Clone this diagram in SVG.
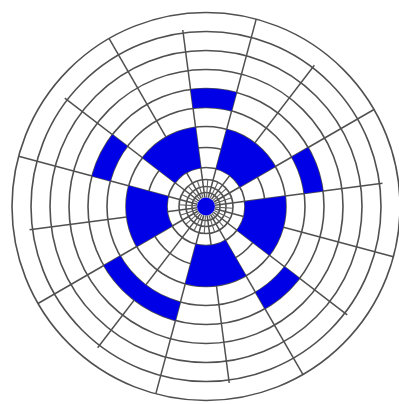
<svg xmlns="http://www.w3.org/2000/svg" xmlns:xlink="http://www.w3.org/1999/xlink" width="399" height="404" viewBox="0 0 399 404">
  <style>
    .ring { fill: none; stroke: #505050; stroke-width: 1.6; }
    .spoke { stroke: #505050; stroke-width: 1.5; }
    .fine { stroke: #606060; stroke-width: 1.1; }
    .cell { fill: #0000e6; stroke: none; }
  </style>
  <defs>
    <path id="band45" d="M0,-80 A80,80 0 0 1 56.569,-56.569 L27.577,-27.577 A39,39 0 0 0 0,-39 Z"/>
    <path id="outer22" d="M0,-118 A118,118 0 0 1 45.157,-109.017 L37.886,-91.464 A99,99 0 0 0 0,-99 Z"/>
    <path id="outer45" d="M0,-118 A118,118 0 0 1 83.439,-83.439 L70.004,-70.004 A99,99 0 0 0 0,-99 Z"/>
  </defs>
  <rect width="399" height="404" fill="#fff"/>
  <g id="grid" transform="translate(206,206.5)">
    <g id="rings">
      <circle class="ring" r="194"/>
      <circle class="ring" r="175"/>
      <circle class="ring" r="156"/>
      <circle class="ring" r="137"/>
      <circle class="ring" r="118"/>
      <circle class="ring" r="99"/>
      <circle class="ring" r="80"/>
      <circle class="ring" r="59"/>
      <circle class="ring" r="39"/>
      <circle class="ring" r="27"/>
      <circle class="ring" r="20"/>
      <circle class="ring" r="14"/>
    </g>
    <g id="spokes">
      <line class="spoke" x1="0" y1="-9" x2="0" y2="-194" transform="rotate(15)"/>
      <line class="spoke" x1="0" y1="-9" x2="0" y2="-178" transform="rotate(37.5)"/>
      <line class="spoke" x1="0" y1="-9" x2="0" y2="-194" transform="rotate(60)"/>
      <line class="spoke" x1="0" y1="-9" x2="0" y2="-178" transform="rotate(82.5)"/>
      <line class="spoke" x1="0" y1="-9" x2="0" y2="-194" transform="rotate(105)"/>
      <line class="spoke" x1="0" y1="-9" x2="0" y2="-178" transform="rotate(127.5)"/>
      <line class="spoke" x1="0" y1="-9" x2="0" y2="-194" transform="rotate(150)"/>
      <line class="spoke" x1="0" y1="-9" x2="0" y2="-178" transform="rotate(172.5)"/>
      <line class="spoke" x1="0" y1="-9" x2="0" y2="-194" transform="rotate(195)"/>
      <line class="spoke" x1="0" y1="-9" x2="0" y2="-178" transform="rotate(217.5)"/>
      <line class="spoke" x1="0" y1="-9" x2="0" y2="-194" transform="rotate(240)"/>
      <line class="spoke" x1="0" y1="-9" x2="0" y2="-178" transform="rotate(262.5)"/>
      <line class="spoke" x1="0" y1="-9" x2="0" y2="-194" transform="rotate(285)"/>
      <line class="spoke" x1="0" y1="-9" x2="0" y2="-178" transform="rotate(307.5)"/>
      <line class="spoke" x1="0" y1="-9" x2="0" y2="-194" transform="rotate(330)"/>
      <line class="spoke" x1="0" y1="-9" x2="0" y2="-178" transform="rotate(352.5)"/>
    </g>
    <g id="inner-spokes">
      <line class="fine" x1="0" y1="-9" x2="0" y2="-27" transform="rotate(26.25)"/>
      <line class="fine" x1="0" y1="-9" x2="0" y2="-27" transform="rotate(48.75)"/>
      <line class="fine" x1="0" y1="-9" x2="0" y2="-27" transform="rotate(71.25)"/>
      <line class="fine" x1="0" y1="-9" x2="0" y2="-27" transform="rotate(93.75)"/>
      <line class="fine" x1="0" y1="-9" x2="0" y2="-27" transform="rotate(116.25)"/>
      <line class="fine" x1="0" y1="-9" x2="0" y2="-27" transform="rotate(138.75)"/>
      <line class="fine" x1="0" y1="-9" x2="0" y2="-27" transform="rotate(161.25)"/>
      <line class="fine" x1="0" y1="-9" x2="0" y2="-27" transform="rotate(183.75)"/>
      <line class="fine" x1="0" y1="-9" x2="0" y2="-27" transform="rotate(206.25)"/>
      <line class="fine" x1="0" y1="-9" x2="0" y2="-27" transform="rotate(228.75)"/>
      <line class="fine" x1="0" y1="-9" x2="0" y2="-27" transform="rotate(251.25)"/>
      <line class="fine" x1="0" y1="-9" x2="0" y2="-27" transform="rotate(273.75)"/>
      <line class="fine" x1="0" y1="-9" x2="0" y2="-27" transform="rotate(296.25)"/>
      <line class="fine" x1="0" y1="-9" x2="0" y2="-27" transform="rotate(318.75)"/>
      <line class="fine" x1="0" y1="-9" x2="0" y2="-27" transform="rotate(341.25)"/>
      <line class="fine" x1="0" y1="-9" x2="0" y2="-27" transform="rotate(3.75)"/>
    </g>
    <g id="cells">
      <use class="cell" xlink:href="#band45" transform="rotate(307.5)"/>
      <use class="cell" xlink:href="#band45" transform="rotate(15)"/>
      <use class="cell" xlink:href="#band45" transform="rotate(82.5)"/>
      <use class="cell" xlink:href="#band45" transform="rotate(150)"/>
      <use class="cell" xlink:href="#band45" transform="rotate(240)"/>
      <use class="cell" xlink:href="#outer22" transform="rotate(352.5)"/>
      <use class="cell" xlink:href="#outer22" transform="rotate(60)"/>
      <use class="cell" xlink:href="#outer22" transform="rotate(127.5)"/>
      <use class="cell" xlink:href="#outer45" transform="rotate(195)"/>
      <use class="cell" xlink:href="#outer22" transform="rotate(285)"/>
    </g>
    <circle id="hub" class="cell" r="9"/>
  </g>
</svg>
